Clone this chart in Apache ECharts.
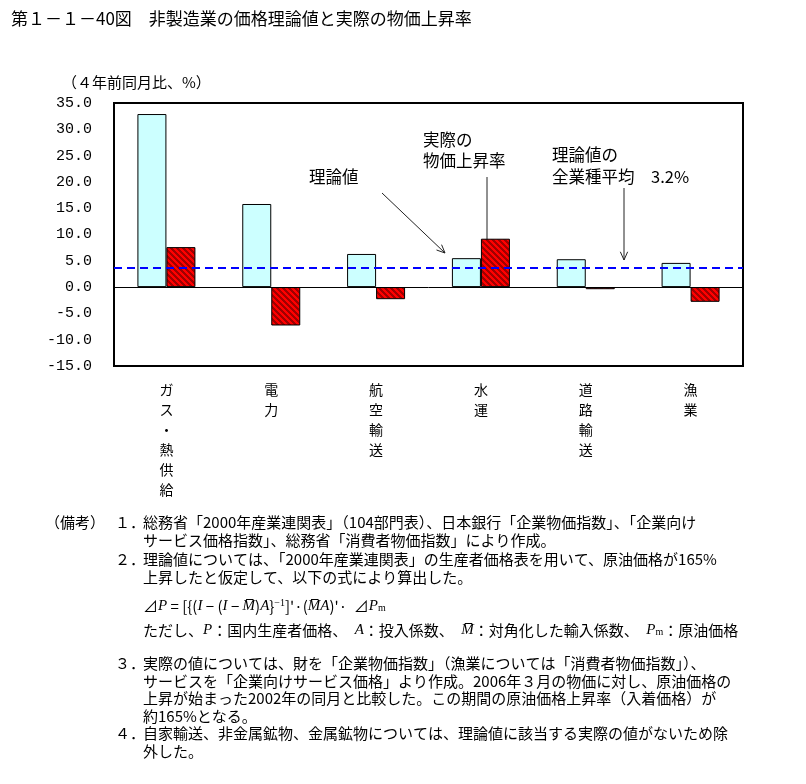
<!DOCTYPE html>
<html><head><meta charset="utf-8">
<script src="https://cdn.jsdelivr.net/npm/echarts@6/dist/echarts.min.js"></script>
<style>html,body{margin:0;padding:0;background:#fff}#c{width:806px;height:784px}</style>
</head><body><div id="c"></div>
<script>
// ---- data ----
const categories = ['ガス・熱供給', '電力', '航空輸送', '水運', '道路輸送', '漁業'];
const theoreticalValues = [32.9, 15.8, 6.3, 5.5, 5.3, 4.6];
const actualValues = [7.6, -7.3, -2.3, 9.2, -0.4, -2.8];
const averageTheoretical = 3.7;
const yMin = -15, yMax = 35, yInterval = 5;
const titleText = '第１－１－40図　非製造業の価格理論値と実際の物価上昇率';
const unitText = '（４年前同月比、%）';

// ---- styling ----
const JP = '"Noto Sans CJK JP", sans-serif';
function stripePattern() {
  const n = 6;
  const c = document.createElement('canvas');
  c.width = n; c.height = n;
  const ctx = c.getContext('2d');
  const img = ctx.createImageData(n, n);
  for (let y = 0; y < n; y++) for (let x = 0; x < n; x++) {
    const dark = (((x - y) % n) + n) % n < 3;
    const i = (y * n + x) * 4;
    img.data[i] = dark ? 160 : 255; img.data[i + 1] = 0; img.data[i + 2] = 0; img.data[i + 3] = 255;
  }
  ctx.putImageData(img, 0, 0);
  return c;
}
function txt(x, y, text, size, extra) {
  return Object.assign({ type: 'text', x: x, y: y, silent: true,
    style: Object.assign({ text: text, font: size + 'px ' + JP, fill: '#000', verticalAlign: 'middle' }, extra || {}) });
}
function arrow(x1, y1, x2, y2) {
  const dx = x2 - x1, dy = y2 - y1, L = Math.hypot(dx, dy), ux = dx / L, uy = dy / L;
  const h = 9, a = 0.42;
  const cos = Math.cos(a), sin = Math.sin(a);
  const p1 = [x2 - h * (ux * cos - uy * sin), y2 - h * (uy * cos + ux * sin)];
  const p2 = [x2 - h * (ux * cos + uy * sin), y2 - h * (uy * cos - ux * sin)];
  return [
    { type: 'line', silent: true, shape: { x1: x1, y1: y1, x2: x2, y2: y2 }, style: { stroke: '#222', lineWidth: 1 } },
    { type: 'polyline', silent: true, shape: { points: [p1, [x2, y2], p2] }, style: { stroke: '#222', lineWidth: 1, fill: null } }
  ];
}

const noteSize = 15;
const mathRich = {
  n: { font: noteSize + 'px ' + JP },
  i: { font: 'italic 15px "Liberation Serif", serif' },
  s: { font: '10px "Liberation Serif", serif', verticalAlign: 'top' },
  b: { font: '10px "Liberation Serif", serif', verticalAlign: 'bottom' }
};

const graphics = [
  txt(11, 19, titleText, 17),
  txt(62, 82, unitText, 15),
  txt(309, 177, '理論値', 16.5),
  txt(423, 140, '実際の', 16.5),
  txt(423, 161, '物価上昇率', 16.5),
  txt(552, 155, '理論値の', 16.5),
  txt(552, 177, '全業種平均　3.2%', 16.5),
  ...arrow(382, 193, 445, 253),
  ...arrow(487, 177, 487, 262),
  ...arrow(624, 188, 624, 260),
  txt(45, 522, '（備考）', noteSize),
  txt(115, 522, '１．', noteSize),
  txt(143, 522, '総務省「2000年産業連関表」（104部門表）、日本銀行「企業物価指数」、「企業向け', noteSize),
  txt(143, 540, 'サービス価格指数」、総務省「消費者物価指数」により作成。', noteSize),
  txt(115, 559, '２．', noteSize),
  txt(143, 559, '理論値については、「2000年産業連関表」の生産者価格表を用いて、原油価格が165%', noteSize),
  txt(143, 577, '上昇したと仮定して、以下の式により算出した。', noteSize),
  txt(143, 606, '{n|⊿}{i|P}{n| = [{(}{i|I}{n| − (}{i|I}{n| − }{i|M̅}{n|)}{i|A}{n|}}{s|−1}{n|]\'·(}{i|M̅A}{n|)\'·  ⊿}{i|P}{b|m}', noteSize, { rich: mathRich }),
  txt(143, 630, '{n|ただし、}{i|P}{n|：国内生産者価格、　}{i|A}{n|：投入係数、　}{i|M̅}{n|：対角化した輸入係数、　}{i|P}{b|m}{n|：原油価格}', noteSize, { rich: mathRich }),
  txt(115, 663, '３．', noteSize),
  txt(143, 663, '実際の値については、財を「企業物価指数」（漁業については「消費者物価指数」）、', noteSize),
  txt(143, 681, 'サービスを「企業向けサービス価格」より作成。2006年３月の物価に対し、原油価格の', noteSize),
  txt(143, 698, '上昇が始まった2002年の同月と比較した。この期間の原油価格上昇率（入着価格）が', noteSize),
  txt(143, 716, '約165%となる。', noteSize),
  txt(115, 733, '４．', noteSize),
  txt(143, 733, '自家輸送、非金属鉱物、金属鉱物については、理論値に該当する実際の値がないため除', noteSize),
  txt(143, 751, '外した。', noteSize)
];

const chart = echarts.init(document.getElementById('c'), null, { renderer: 'canvas' });
chart.setOption({
  animation: false,
  backgroundColor: '#fff',
  grid: { left: 114, right: 63, top: 103, bottom: 418, show: true, borderColor: '#000', borderWidth: 2, backgroundColor: 'transparent' },
  xAxis: {
    type: 'category', data: categories,
    axisLine: { show: false }, axisTick: { show: false }, splitLine: { show: false },
    axisLabel: { formatter: v => v.split('').join('\n'), fontFamily: JP, fontSize: 14, lineHeight: 20, color: '#000', margin: 14, interval: 0 }
  },
  yAxis: {
    type: 'value', min: yMin, max: yMax, interval: yInterval,
    axisLine: { show: false }, axisTick: { show: false }, splitLine: { show: false },
    axisLabel: { formatter: v => v.toFixed(1), fontFamily: '"Liberation Mono", monospace', fontSize: 15, color: '#000', margin: 22 }
  },
  series: [
    {
      type: 'bar', name: '理論値', data: theoreticalValues, barWidth: 29, barGap: '0%',
      itemStyle: { color: '#CCFFFF', borderColor: '#000', borderWidth: 1 },
      markLine: {
        silent: true, symbol: ['none', 'none'], label: { show: false }, animation: false,
        data: [
          { yAxis: 0, lineStyle: { color: '#000', width: 1, type: 'solid' } },
          { yAxis: averageTheoretical, lineStyle: { color: '#0000FF', width: 2, type: [8, 5] } }
        ]
      }
    },
    {
      type: 'bar', name: '実際の物価上昇率', data: actualValues, barWidth: 29, barGap: '0%',
      itemStyle: { color: { image: stripePattern(), repeat: 'repeat' }, borderColor: '#000', borderWidth: 1 }
    }
  ],
  graphic: graphics
});
</script>
</body></html>
